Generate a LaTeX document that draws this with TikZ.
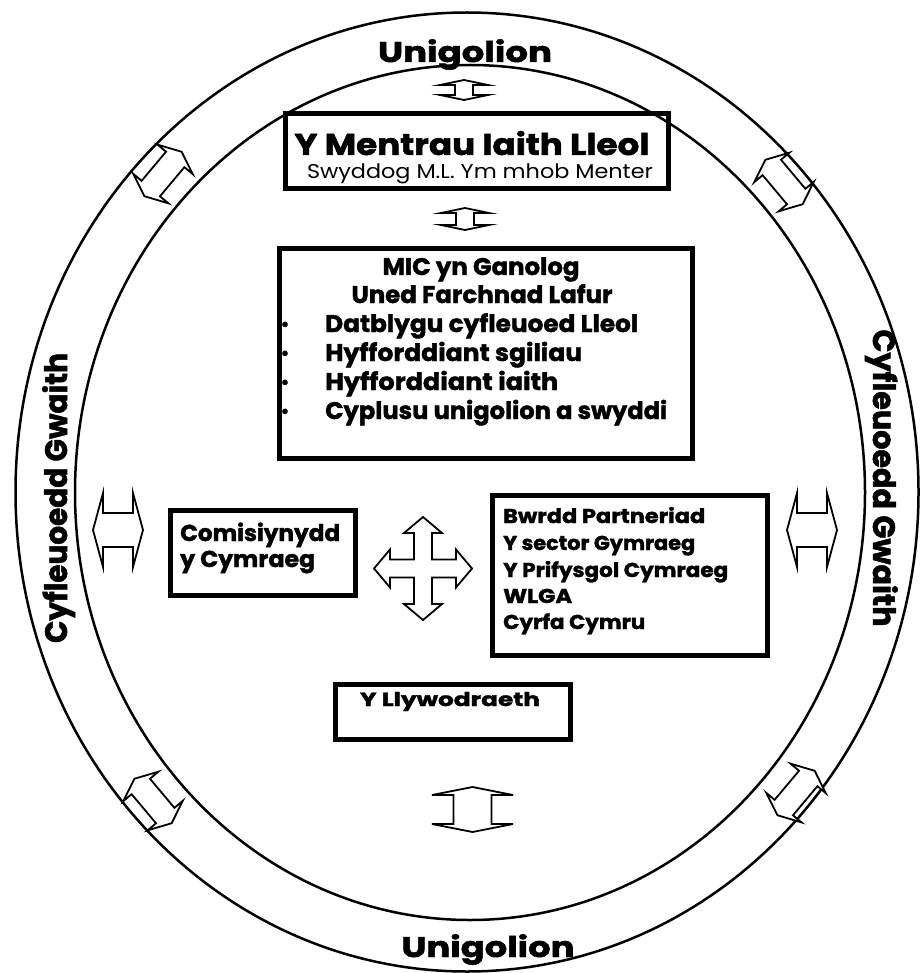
\documentclass[tikz,border=0pt]{standalone}
\usepackage{fontspec}
\setmainfont{Poppins}[BoldFeatures={FakeBold=1.6}]
\usepackage{graphicx}
\newcommand\fitw[2]{\resizebox{#1pt}{\height}{#2}}
\newcommand\dblarr[7]{%
  \draw[arr, shift={(#1,#2)}, rotate=#3]
    ({-(#4)/2},0) -- ({-(#4)/2+(#7)},{(#5)/2}) -- ({-(#4)/2+(#7)},{(#6)/2})
    -- ({(#4)/2-(#7)},{(#6)/2}) -- ({(#4)/2-(#7)},{(#5)/2}) -- ({(#4)/2},0)
    -- ({(#4)/2-(#7)},{-(#5)/2}) -- ({(#4)/2-(#7)},{-(#6)/2})
    -- ({-(#4)/2+(#7)},{-(#6)/2}) -- ({-(#4)/2+(#7)},{-(#5)/2}) -- cycle;}
\begin{document}
\begin{tikzpicture}[x=1pt,y=-1pt,
  ring/.style={line width=2.5pt},
  box/.style={draw, line width=4.8pt, inner sep=0pt},
  arr/.style={line width=1.8pt, line join=miter, fill=white},
  txt/.style={inner sep=0pt, font=\bfseries\fontsize{#1}{#1}\selectfont},
  rtxt/.style={inner sep=0pt, font=\fontsize{#1}{#1}\selectfont}]
\fill[white] (0,0) rectangle (920,973);
\useasboundingbox (0,0) rectangle (920,973);

% rings
\draw[ring] (467,492) ellipse [x radius=451.5, y radius=479.5];
\draw[ring] (470,492.5) ellipse [x radius=395, y radius=427.5];

% ring labels
\node[txt=28.5, anchor=base] (uTop) at (465,62) {\fitw{174}{Unigolion}};
\node[txt=28.5, anchor=base] (uBot) at (488,957) {\fitw{173}{Unigolion}};
\node[txt=31, anchor=base, rotate=90] (cgL) at (67,498) {\fitw{290}{Cyfleuoedd Gwaith}};
\node[txt=31, anchor=base, rotate=-90] (cgR) at (873,478) {\fitw{297}{Cyfleuoedd Gwaith}};

% boxes
\node[box, minimum width=383, minimum height=75] (mentrau) at (477,151) {};
\node[box, minimum width=413, minimum height=210] (mic) at (486,353.5) {};
\node[box, minimum width=185, minimum height=85] (comis) at (263,553) {};
\node[box, minimum width=275, minimum height=160] (bwrdd) at (630,575.5) {};
\node[box, minimum width=235, minimum height=55] (llyw) at (453,712) {};

% top box text
\node[txt=30, anchor=base] (t1) at (472,155) {\fitw{355}{Y Mentrau Iaith Lleol}};
\node[rtxt=20, anchor=base] (t2) at (480,179) {\fitw{346}{Swyddog M.L. Ym mhob Menter}};

% MIC box text
\node[txt=24, anchor=base] (m1) at (481,275) {\fitw{197}{MIC yn Ganolog}};
\node[txt=24, anchor=base] (m2) at (482,303) {\fitw{261}{Uned Farchnad Lafur}};
\node[txt=24, anchor=base west] (m3) at (325,332) {\fitw{313}{Datblygu cyfleuoed Lleol}};
\node[txt=24, anchor=base west] (m4) at (325,361) {\fitw{257}{Hyfforddiant sgiliau}};
\node[txt=24, anchor=base west] (m5) at (325,390) {\fitw{233}{Hyfforddiant iaith}};
\node[txt=24, anchor=base west] (m6) at (325,419) {\fitw{342}{Cyplusu unigolion a swyddi}};
\node[txt=17, anchor=base] (b3) at (285,330) {\textbullet};
\node[txt=17, anchor=base] (b4) at (285,359) {\textbullet};
\node[txt=17, anchor=base] (b5) at (285,388) {\textbullet};
\node[txt=17, anchor=base] (b6) at (285,417) {\textbullet};

% Comisiynydd text
\node[txt=23, anchor=base west] (c1) at (180,541) {\fitw{160}{Comisiynydd}};
\node[txt=23, anchor=base west] (c2) at (180,567) {\fitw{135}{y Cymraeg}};

% Bwrdd text
\node[txt=20, anchor=base west] (w1) at (503,523) {\fitw{202}{Bwrdd Partneriad}};
\node[txt=20, anchor=base west] (w2) at (503,550) {\fitw{192}{Y sector Gymraeg}};
\node[txt=20, anchor=base west] (w3) at (503,577) {\fitw{225}{Y Prifysgol Cymraeg}};
\node[txt=20, anchor=base west] (w4) at (503,603) {\fitw{69}{WLGA}};
\node[txt=20, anchor=base west] (w5) at (503,629) {\fitw{142}{Cyrfa Cymru}};

% Llywodraeth text
\node[txt=19, anchor=base] (l1) at (450,706) {\fitw{180}{Y Llywodraeth}};

% double arrows
\dblarr{464}{90}{90}{20}{48}{18}{5}
\dblarr{465}{219}{90}{22}{48}{18}{5}
\dblarr{472.5}{809.5}{90}{45}{81}{38}{8}
\dblarr{118}{530}{0}{50}{74}{34}{10}
\dblarr{812}{530}{0}{50}{74}{34}{10}
\dblarr{163}{174}{50}{58}{46}{24}{10}
\dblarr{784}{182}{-50}{58}{46}{24}{10}
\dblarr{153}{801}{-50}{58}{46}{24}{10}
\dblarr{796}{793}{50}{58}{46}{24}{10}

% four-way arrow
\draw[arr, shift={(423,568.5)}]
  (49,0) -- (33,19) -- (33,9) -- (9,9) -- (9,35.5) -- (19,35.5) -- (0,51.5)
  -- (-19,35.5) -- (-9,35.5) -- (-9,9) -- (-33,9) -- (-33,19) -- (-49,0)
  -- (-33,-19) -- (-33,-9) -- (-9,-9) -- (-9,-35.5) -- (-19,-35.5) -- (0,-51.5)
  -- (19,-35.5) -- (9,-35.5) -- (9,-9) -- (33,-9) -- (33,-19) -- cycle;
\end{tikzpicture}
\end{document}
